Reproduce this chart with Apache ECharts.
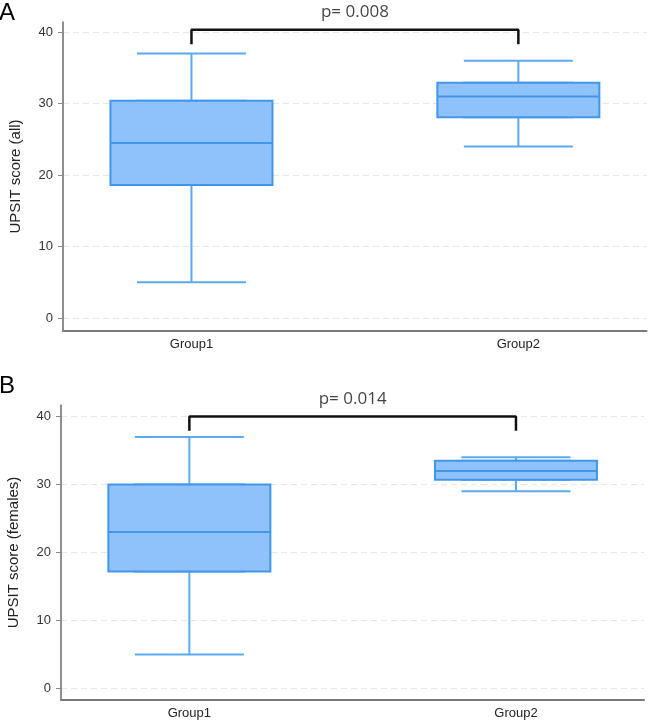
<!DOCTYPE html>
<html>
<head>
<meta charset="utf-8">
<script src="https://cdn.jsdelivr.net/npm/echarts@6/dist/echarts.min.js"></script>
<style>
  html, body { margin: 0; padding: 0; background: #fff; }
  #chart { width: 649px; height: 722px; }
</style>
</head>
<body>
<div id="chart"></div>
<script>
// box stats per group: [min, Q1, median, Q3, max]
const groups = ["Group1", "Group2"];
const allScores = [
  [5, 18.6, 24.5, 30.4, 37],
  [24, 28.1, 31, 32.9, 36]
];
const femaleScores = [
  [5, 17.2, 23, 30, 37],
  [29, 30.7, 32, 33.5, 34]
];
const yTicks = [0, 10, 20, 30, 40];
const panelLabels = ["A", "B"];
const axisNames = ["UPSIT score (all)", "UPSIT score (females)"];
const pLabels = ["p= 0.008", "p= 0.014"];
// significance bracket: [top, foot] in score units
const bracketA = [40.3, 38.3];
const bracketB = [40.0, 37.9];

const FONT = "Liberation Sans, Arial, sans-serif";
const X_MIN = 0.607, X_MAX = 2.392;

function makeGrid(pos) {
  return Object.assign({ outerBoundsMode: "none", containLabel: false }, pos);
}

function makeXAxis(gridIdx) {
  return {
    type: "value",
    gridIndex: gridIdx,
    min: X_MIN,
    max: X_MAX,
    axisLine: { show: true, onZero: false, lineStyle: { color: "#7a7a7a", width: 2 } },
    axisTick: { show: false },
    splitLine: { show: false },
    axisLabel: {
      customValues: [1, 2],
      formatter: v => groups[Math.round(v) - 1] || "",
      color: "#222",
      fontSize: 13,
      fontFamily: FONT,
      margin: 7
    }
  };
}

// hidden twin axis so the whisker layer is not laid out beside the box layer
function makeHiddenXAxis(gridIdx) {
  return {
    type: "value",
    gridIndex: gridIdx,
    min: X_MIN,
    max: X_MAX,
    show: false,
    splitLine: { show: false }
  };
}

function makeYAxis(idx, min, max) {
  return {
    type: "value",
    gridIndex: idx,
    min: min,
    max: max,
    name: axisNames[idx],
    nameLocation: "middle",
    nameGap: 40,
    nameMoveOverlap: false,
    nameTextStyle: { color: "#222", fontSize: 15, fontFamily: FONT },
    axisLine: { show: true, onZero: false, lineStyle: { color: "#6a6a6a", width: 1.5 } },
    axisTick: { show: true, customValues: yTicks, length: 5, lineStyle: { color: "#888" } },
    axisLabel: { customValues: yTicks, color: "#333", fontSize: 13, fontFamily: FONT, margin: 10 },
    splitLine: { show: true, lineStyle: { color: "#e6e6e6", width: 1, type: [6, 4] } }
  };
}

function panelSeries(idx, stats, bracket) {
  const whiskers = stats.map((s, i) => [i + 1].concat(s));
  const boxes = stats.map((s, i) => [i + 1, s[1], s[1], s[2], s[3], s[3]]);
  const mainX = idx * 2, twinX = idx * 2 + 1;
  return [
    {
      type: "boxplot",
      xAxisIndex: twinX, yAxisIndex: idx,
      boxWidth: [109, 109],
      data: whiskers,
      itemStyle: { color: "rgba(0,0,0,0)", borderColor: "#5aaaf2", borderWidth: 2 },
      emphasis: { disabled: true }
    },
    {
      type: "boxplot",
      xAxisIndex: mainX, yAxisIndex: idx,
      boxWidth: [162, 162],
      data: boxes,
      itemStyle: { color: "#8fc1fa", borderColor: "#4296ea", borderWidth: 2 },
      emphasis: { disabled: true }
    },
    {
      type: "line",
      xAxisIndex: mainX, yAxisIndex: idx,
      data: [[1, bracket[1]], [1, bracket[0]], [2, bracket[0]], [2, bracket[1]]],
      showSymbol: false,
      lineStyle: { color: "#111", width: 2.5 },
      emphasis: { disabled: true },
      silent: true
    },
    {
      type: "scatter",
      xAxisIndex: mainX, yAxisIndex: idx,
      data: [[1.5, bracket[0]]],
      symbolSize: 0,
      label: {
        show: true,
        position: "top",
        distance: 9,
        formatter: pLabels[idx],
        color: "#111",
        fontSize: 17,
        fontFamily: "Open Sans, sans-serif"
      },
      silent: true
    }
  ];
}

const chart = echarts.init(document.getElementById("chart"), null, { renderer: "canvas" });
chart.setOption({
  animation: false,
  backgroundColor: "#fff",
  title: [
    { text: panelLabels[0], left: -1, top: 1, padding: 0, textStyle: { fontSize: 24, fontWeight: "normal", color: "#000", fontFamily: FONT } },
    { text: panelLabels[1], left: -1, top: 374, padding: 0, textStyle: { fontSize: 24, fontWeight: "normal", color: "#000", fontFamily: FONT } }
  ],
  grid: [
    makeGrid({ left: 63, right: 2.5, top: 22, bottom: 391 }),
    makeGrid({ left: 61, right: 5, top: 405, bottom: 22 })
  ],
  xAxis: [makeXAxis(0), makeHiddenXAxis(0), makeXAxis(1), makeHiddenXAxis(1)],
  yAxis: [makeYAxis(0, -1.8, 41.4), makeYAxis(1, -1.7, 41.7)],
  series: panelSeries(0, allScores, bracketA).concat(panelSeries(1, femaleScores, bracketB))
});
</script>
</body>
</html>
